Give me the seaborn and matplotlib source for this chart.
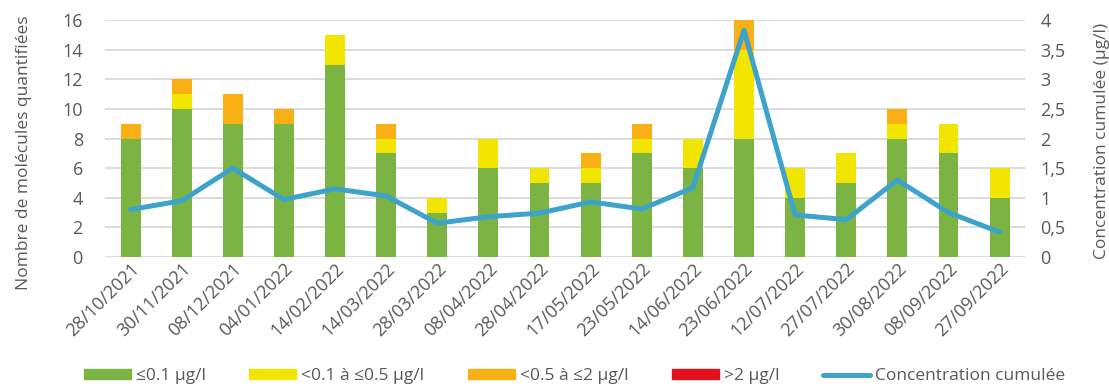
import numpy as np
import pandas as pd
import matplotlib
matplotlib.use("Agg")
import matplotlib.pyplot as plt
import seaborn as sns
from matplotlib.patches import Patch
from matplotlib.lines import Line2D

dates = ["28/10/2021", "30/11/2021", "08/12/2021", "04/01/2022", "14/02/2022",
         "14/03/2022", "28/03/2022", "08/04/2022", "28/04/2022", "17/05/2022",
         "23/05/2022", "14/06/2022", "23/06/2022", "12/07/2022", "27/07/2022",
         "30/08/2022", "08/09/2022", "27/09/2022"]
low = [8, 10, 9, 9, 13, 7, 3, 6, 5, 5, 7, 6, 8, 4, 5, 8, 7, 4]          # <=0.1
mid = [0, 1, 0, 0, 2, 1, 1, 2, 1, 1, 1, 2, 6, 2, 2, 1, 2, 2]            # 0.1-0.5
high = [1, 1, 2, 1, 0, 1, 0, 0, 0, 1, 1, 0, 2, 0, 0, 1, 0, 0]           # 0.5-2
vhigh = [0] * 18                                                        # >2
conc = [0.8, 0.95, 1.5, 0.97, 1.15, 1.03, 0.57, 0.68, 0.74, 0.93,
        0.81, 1.17, 3.83, 0.71, 0.63, 1.3, 0.75, 0.42]

labels = ["≤0.1 µg/l", "<0.1 à ≤0.5 µg/l", "<0.5 à ≤2 µg/l", ">2 µg/l", "Concentration cumulée"]
c_green, c_yellow, c_orange, c_red, c_line = "#7BB443", "#F2E500", "#F8B014", "#E3111B", "#3EA3CB"
txt = "#595959"

sns.set_theme(style="white")
plt.rcParams["font.family"] = ["Open Sans", "DejaVu Sans"]

df = pd.DataFrame({"date": dates, "low": low, "mid": mid, "high": high, "vhigh": vhigh, "conc": conc})
df["c1"] = df["low"]
df["c2"] = df["c1"] + df["mid"]
df["c3"] = df["c2"] + df["high"]
df["c4"] = df["c3"] + df["vhigh"]

fig = plt.figure(figsize=(11.09, 3.87), dpi=100)
ax = fig.add_axes([0.0947, 0.336, 0.8297, 0.612])

w = 0.39
for col, c in [("c4", c_red), ("c3", c_orange), ("c2", c_yellow), ("c1", c_green)]:
    sns.barplot(data=df, x="date", y=col, color=c, width=w, saturation=1, ax=ax,
                order=dates, linewidth=0, edgecolor="none")

ax.set_ylim(0, 16)
ax.set_yticks(range(0, 17, 2))
ax.set_xlim(-0.5, len(dates) - 0.5)
ax.yaxis.grid(True, color="#D9D9D9", linewidth=1.3)
ax.set_axisbelow(True)
for s in ax.spines.values():
    s.set_visible(False)
ax.set_xlabel("")
ax.set_ylabel("Nombre de molécules quantifiées", color=txt, fontsize=12.5)
ax.yaxis.set_label_coords(-0.079, 0.44)
ax.tick_params(axis="y", colors=txt, labelsize=13, length=0, pad=16)
ax.tick_params(axis="x", colors=txt, labelsize=13, length=0, pad=2)
ax.set_xticks(range(len(dates)))
ax.set_xticklabels(dates, rotation=45, ha="right", rotation_mode="anchor")

ax2 = ax.twinx()
sns.lineplot(x=np.arange(len(dates)), y=df["conc"].values, color=c_line, linewidth=3.6, ax=ax2)
ax2.set_ylim(0, 4)
ax2.set_yticks([0, 0.5, 1, 1.5, 2, 2.5, 3, 3.5, 4])
ax2.set_yticklabels(["0", "0,5", "1", "1,5", "2", "2,5", "3", "3,5", "4"])
ax2.tick_params(axis="y", colors=txt, labelsize=13, length=0, pad=11)
ax2.set_ylabel("Concentration cumulée (µg/l)", color=txt, fontsize=12.5)
ax2.yaxis.set_label_coords(1.075, 0.49)
for s in ax2.spines.values():
    s.set_visible(False)
ax2.set_xlim(-0.5, len(dates) - 0.5)

handles = [Patch(color=c_green), Patch(color=c_yellow), Patch(color=c_orange), Patch(color=c_red),
           Line2D([0], [0], color=c_line, linewidth=3.6)]
fig.legend(handles, labels, loc="center", bbox_to_anchor=(0.518, 0.028), ncol=5, frameon=False,
           fontsize=12.5, labelcolor=txt, handlelength=2.7, handleheight=0.5, columnspacing=2.5,
           handletextpad=0.3, borderpad=0)

fig.savefig("out.png", dpi=100)
